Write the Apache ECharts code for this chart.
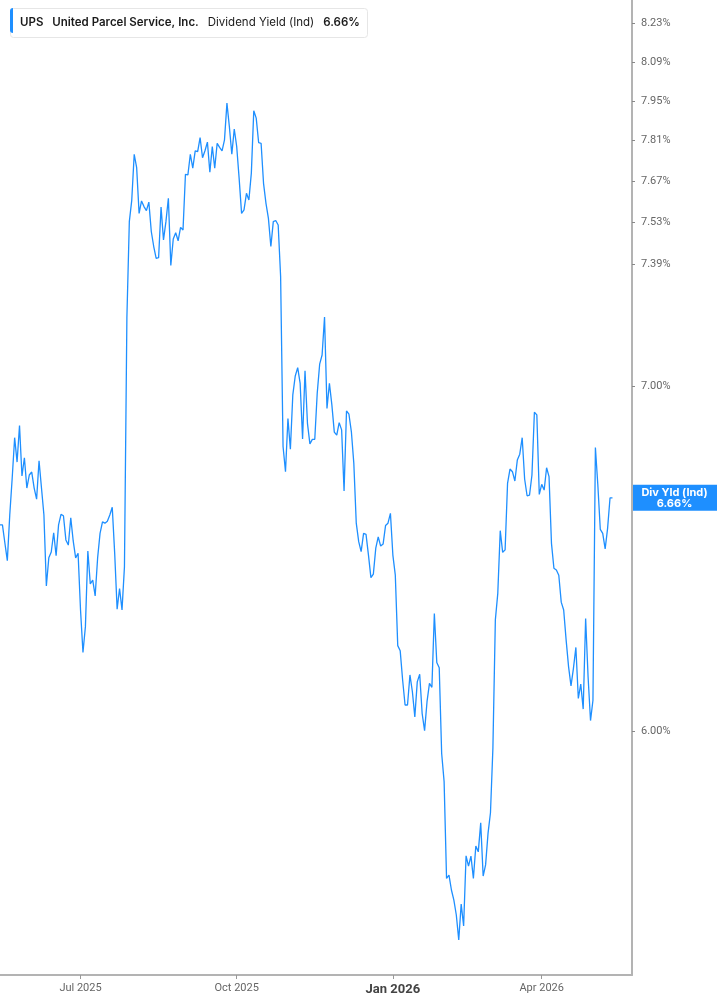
<!DOCTYPE html>
<html>
<head>
<meta charset="utf-8">
<script src="https://cdn.jsdelivr.net/npm/echarts@6/dist/echarts.min.js"></script>
<style>
html,body{margin:0;padding:0;background:#fff;}
#chart{width:717px;height:1005px;}
</style>
</head>
<body>
<div id="chart"></div>
<script>
// ---- data ----
const ticker = 'UPS';
const companyName = 'United Parcel Service, Inc.';
const metricName = 'Dividend Yield (Ind)';
const axisTagName = 'Div Yld (Ind)';

// first trading day shown, and market holidays (no data points on these days)
const startDate = '2025-05-13';
const holidays = ['2025-05-26','2025-06-19','2025-07-04','2025-09-01','2025-11-27','2025-12-25',
                  '2026-01-01','2026-01-19','2026-02-16','2026-04-03','2026-05-25'];
const emptyFutureDays = 8;

// daily dividend yield (%), one value per trading day
const yieldValues = [
  6.580, 6.580, 6.527, 6.476, 6.609, 6.719, 6.841, 6.767, 6.878, 6.725,
  6.780, 6.689, 6.728, 6.737, 6.689, 6.656, 6.771, 6.689, 6.609, 6.403,
  6.484, 6.501, 6.557, 6.490, 6.580, 6.611, 6.607, 6.536, 6.521, 6.601,
  6.533, 6.484, 6.497, 6.335, 6.216, 6.288, 6.504, 6.409, 6.420, 6.375,
  6.483, 6.555, 6.589, 6.585, 6.591, 6.609, 6.632, 6.497, 6.337, 6.396,
  6.335, 6.458, 7.216, 7.533, 7.606, 7.763, 7.717, 7.561, 7.603, 7.584,
  7.570, 7.599, 7.500, 7.450, 7.411, 7.413, 7.582, 7.472, 7.533, 7.612,
  7.387, 7.475, 7.496, 7.469, 7.514, 7.505, 7.694, 7.692, 7.763, 7.715,
  7.775, 7.772, 7.821, 7.751, 7.775, 7.805, 7.701, 7.790, 7.715, 7.801,
  7.787, 7.775, 7.813, 7.942, 7.859, 7.763, 7.851, 7.790, 7.680, 7.561,
  7.573, 7.629, 7.606, 7.698, 7.915, 7.889, 7.803, 7.801, 7.663, 7.595,
  7.544, 7.450, 7.533, 7.537, 7.522, 7.351, 6.814, 6.738, 6.900, 6.806,
  6.973, 7.032, 7.058, 7.009, 6.837, 7.048, 6.885, 6.822, 6.836, 6.836,
  6.978, 7.069, 7.098, 7.219, 6.931, 7.009, 6.942, 6.858, 6.849, 6.887,
  6.865, 6.680, 6.923, 6.913, 6.859, 6.763, 6.585, 6.531, 6.502, 6.555,
  6.552, 6.492, 6.427, 6.437, 6.512, 6.545, 6.518, 6.524, 6.578, 6.585,
  6.614, 6.492, 6.434, 6.235, 6.221, 6.140, 6.072, 6.072, 6.154, 6.108,
  6.040, 6.135, 6.156, 6.049, 6.003, 6.081, 6.131, 6.120, 6.325, 6.188,
  6.174, 5.942, 5.868, 5.620, 5.628, 5.591, 5.566, 5.529, 5.468, 5.556,
  5.502, 5.677, 5.651, 5.676, 5.620, 5.702, 5.687, 5.761, 5.626, 5.654,
  5.734, 5.787, 5.957, 6.307, 6.382, 6.563, 6.500, 6.507, 6.703, 6.746,
  6.738, 6.710, 6.773, 6.791, 6.841, 6.716, 6.666, 6.668, 6.728, 6.919,
  6.911, 6.670, 6.700, 6.683, 6.750, 6.723, 6.526, 6.454, 6.449, 6.434,
  6.357, 6.335, 6.251, 6.177, 6.124, 6.172, 6.230, 6.090, 6.129, 6.061,
  6.311, 6.149, 6.030, 6.085, 6.811, 6.698, 6.567, 6.555, 6.510, 6.570,
  6.660, 6.660
];

// y axis (log scale) tick labels and range
const yTickValues = [6.00, 7.00, 7.39, 7.53, 7.67, 7.81, 7.95, 8.09, 8.23];
const yMin = 5.383;
const yMax = 8.316;

// x axis labels: first trading day of these months
const monthNames = ['Jan','Feb','Mar','Apr','May','Jun','Jul','Aug','Sep','Oct','Nov','Dec'];
const labelMonths = [0, 3, 6, 9];
const boldMonth = 0;

// ---- build ----
function tradingDays(start, n) {
  const out = [];
  const d = new Date(start + 'T00:00:00Z');
  while (out.length < n) {
    const dow = d.getUTCDay();
    const s = d.toISOString().slice(0, 10);
    if (dow !== 0 && dow !== 6 && holidays.indexOf(s) < 0) out.push(s);
    d.setUTCDate(d.getUTCDate() + 1);
  }
  return out;
}
const dates = tradingDays(startDate, yieldValues.length + emptyFutureDays);
const labelIdx = new Set();
for (let i = 1; i < dates.length; i++) {
  const m = +dates[i].slice(5, 7) - 1;
  const pm = +dates[i - 1].slice(5, 7) - 1;
  if (m !== pm && labelMonths.indexOf(m) >= 0) labelIdx.add(i);
}
const lastValue = yieldValues[yieldValues.length - 1];
const lastLabel = lastValue.toFixed(2) + '%';
const BLUE = '#1E8FFF';

const chart = echarts.init(document.getElementById('chart'), null, {renderer: 'canvas'});
chart.setOption({
  animation: false,
  backgroundColor: '#ffffff',
  title: {
    left: 10, top: 8,
    padding: [6, 8, 6, 10],
    backgroundColor: '#ffffff',
    borderColor: '#e6e6e6', borderWidth: 1, borderRadius: 3,
    text: '{a|' + ticker + '}{s|}{a|' + companyName + '}{s|}{n|' + metricName + '}{s|}{a|' + lastLabel + '}',
    textStyle: {
      rich: {
        a: {fontFamily: 'Inter', fontSize: 11.5, fontWeight: 600, color: '#1a1a1a', lineHeight: 13},
        n: {fontFamily: 'Inter', fontSize: 11.5, fontWeight: 400, color: '#1a1a1a', lineHeight: 13},
        s: {width: 9}
      }
    }
  },
  graphic: [{
    type: 'rect', left: 10, top: 8, z: 100,
    shape: {width: 3, height: 25, r: [3, 0, 0, 3]},
    style: {fill: BLUE}
  }],
  grid: {left: -1, right: 85, top: 0, bottom: 30},
  xAxis: {
    type: 'category',
    data: dates,
    boundaryGap: false,
    axisLine: {show: true, lineStyle: {color: '#b3b3b3', width: 2}},
    axisTick: {show: true, length: 4, interval: (i) => labelIdx.has(i), lineStyle: {color: '#999'}},
    axisLabel: {
      interval: (i) => labelIdx.has(i),
      margin: 8,
      color: '#666',
      fontSize: 11,
      fontFamily: 'Roboto',
      formatter: (v) => {
        const m = +v.slice(5, 7) - 1;
        const txt = monthNames[m] + ' ' + v.slice(0, 4);
        return m === boldMonth ? '{b|' + txt + '}' : txt;
      },
      rich: {b: {fontFamily: 'Roboto', fontSize: 13, fontWeight: 'bold', color: '#444'}}
    },
    splitLine: {show: false}
  },
  yAxis: {
    type: 'log',
    position: 'right',
    min: yMin, max: yMax,
    axisLine: {show: true, lineStyle: {color: '#b3b3b3', width: 2}},
    axisTick: {show: true, length: 3, customValues: yTickValues, lineStyle: {color: '#888'}},
    axisLabel: {
      customValues: yTickValues,
      margin: 9,
      color: '#666',
      fontSize: 11,
      fontFamily: 'Roboto',
      formatter: (v) => Number(v).toFixed(2) + '%'
    },
    splitLine: {show: false}
  },
  series: [{
    type: 'line',
    data: yieldValues,
    showSymbol: false,
    symbol: 'none',
    lineStyle: {color: BLUE, width: 1.3},
    itemStyle: {color: BLUE}
  }]
});

// last-value tag on the y axis, placed through the chart's own y scale
const tagY = chart.convertToPixel({yAxisIndex: 0}, lastValue);
const gridRight = chart.convertToPixel({xAxisIndex: 0}, dates[dates.length - 1]);
chart.setOption({
  graphic: [{
    type: 'rect', left: 10, top: 8, z: 100,
    shape: {width: 3, height: 25, r: [3, 0, 0, 3]},
    style: {fill: BLUE}
  }, {
    type: 'group', x: gridRight, y: tagY, z: 120,
    children: [{
      type: 'rect',
      shape: {x: 0, y: -13, width: 717 - gridRight, height: 26},
      style: {fill: BLUE}
    }, {
      type: 'text',
      x: (717 - gridRight) / 2, y: 0,
      style: {
        text: axisTagName + '\n' + lastLabel,
        fill: '#fff', fontFamily: 'Inter', fontWeight: 700, fontSize: 11, lineHeight: 11,
        align: 'center', verticalAlign: 'middle'
      }
    }]
  }]
});
</script>
</body>
</html>
